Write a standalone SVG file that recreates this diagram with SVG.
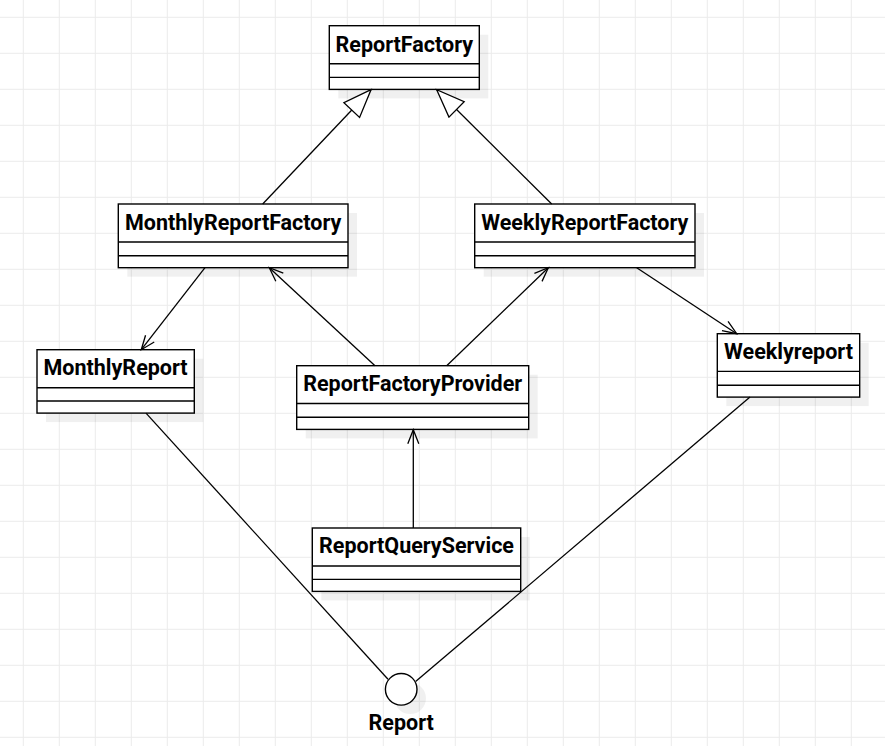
<svg xmlns="http://www.w3.org/2000/svg" width="885" height="746" viewBox="0 0 885 746">
<defs>
<pattern id="grid" patternUnits="userSpaceOnUse" x="22.8" y="16.8" width="36" height="36">
<path d="M0 0.5 H36 M0.5 0 V36" fill="none" stroke="#ebebeb" stroke-width="1"/>
</pattern>
<marker id="open" markerUnits="userSpaceOnUse" viewBox="-16 -8 18 16" markerWidth="18" markerHeight="16" refX="0" refY="0" orient="auto">
<path d="M-14,-5.5 L0,0 L-14,5.5" fill="none" stroke="#000" stroke-width="1.3"/>
</marker>
<marker id="tri" markerUnits="userSpaceOnUse" viewBox="-30 -12 32 24" markerWidth="32" markerHeight="24" refX="0" refY="0" orient="auto">
<path d="M0,0 L-28,-10.8 L-28,10.8 Z" fill="#fff" stroke="#000" stroke-width="1.3" stroke-linejoin="miter"/>
</marker>
</defs>
<style>
.shadow{fill:#000;fill-opacity:0.06}
.box{fill:#fff;stroke:#000;stroke-width:1.4}
.div{stroke:#000;stroke-width:1.4}
.t{font-family:Roboto,"Liberation Sans",sans-serif;font-weight:bold;font-size:21.5px;fill:#000;text-anchor:middle}
.edge{fill:none;stroke:#000;stroke-width:1.3}
</style>
<rect width="885" height="746" fill="#fff"/>
<rect width="885" height="746" fill="url(#grid)"/>

<g id="ReportFactory">
<rect class="shadow" x="338.3" y="34.7" width="150" height="63.7"/>
<rect class="box" x="329.3" y="25.7" width="150" height="63.7"/>
<line class="div" x1="329.3" y1="63.7" x2="479.3" y2="63.7"/>
<line class="div" x1="329.3" y1="77.4" x2="479.3" y2="77.4"/>
<text class="t" x="404.3" y="51.5">ReportFactory</text>
</g>

<g id="MonthlyReportFactory">
<rect class="shadow" x="127.3" y="213" width="229.7" height="63.7"/>
<rect class="box" x="118.3" y="204" width="229.7" height="63.7"/>
<line class="div" x1="118.3" y1="242" x2="348" y2="242"/>
<line class="div" x1="118.3" y1="255.7" x2="348" y2="255.7"/>
<text class="t" x="233.2" y="229.5">MonthlyReportFactory</text>
</g>

<g id="WeeklyReportFactory">
<rect class="shadow" x="483.7" y="213" width="220.3" height="63.7"/>
<rect class="box" x="474.7" y="204" width="220.3" height="63.7"/>
<line class="div" x1="474.7" y1="242" x2="695" y2="242"/>
<line class="div" x1="474.7" y1="255.7" x2="695" y2="255.7"/>
<text class="t" x="584.8" y="229.5">WeeklyReportFactory</text>
</g>

<g id="MonthlyReport">
<rect class="shadow" x="46" y="358.7" width="157.3" height="63.4"/>
<rect class="box" x="37" y="349.7" width="157.3" height="63.4"/>
<line class="div" x1="37" y1="387.7" x2="194.3" y2="387.7"/>
<line class="div" x1="37" y1="401" x2="194.3" y2="401"/>
<text class="t" x="115.6" y="375.2">MonthlyReport</text>
</g>

<g id="ReportFactoryProvider">
<rect class="shadow" x="305.7" y="374.7" width="232" height="63.7"/>
<rect class="box" x="296.7" y="365.7" width="232" height="63.7"/>
<line class="div" x1="296.7" y1="403.5" x2="528.7" y2="403.5"/>
<line class="div" x1="296.7" y1="417.3" x2="528.7" y2="417.3"/>
<text class="t" x="412.7" y="391.2">ReportFactoryProvider</text>
</g>

<g id="Weeklyreport">
<rect class="shadow" x="726.3" y="342.7" width="142.4" height="63.4"/>
<rect class="box" x="717.3" y="333.7" width="142.4" height="63.4"/>
<line class="div" x1="717.3" y1="371.4" x2="859.7" y2="371.4"/>
<line class="div" x1="717.3" y1="385.3" x2="859.7" y2="385.3"/>
<text class="t" x="788.5" y="358.7">Weeklyreport</text>
</g>

<g id="ReportQueryService">
<rect class="shadow" x="321.3" y="537" width="208.4" height="63.4"/>
<rect class="box" x="312.3" y="528" width="208.4" height="63.4"/>
<line class="div" x1="312.3" y1="566" x2="520.7" y2="566"/>
<line class="div" x1="312.3" y1="579.4" x2="520.7" y2="579.4"/>
<text class="t" x="416.5" y="553">ReportQueryService</text>
</g>

<g id="Report">
<circle class="shadow" cx="410.2" cy="698.3" r="15.8"/>
<circle class="box" cx="401.2" cy="689.3" r="15.8"/>
<text class="t" x="401.2" y="730">Report</text>
</g>

<g id="connectors">
<line class="edge" x1="262.7" y1="204" x2="371" y2="89.7" marker-end="url(#tri)"/>
<line class="edge" x1="551.7" y1="204" x2="436.7" y2="89.7" marker-end="url(#tri)"/>
<line class="edge" x1="205" y1="267.7" x2="141.3" y2="349.7" marker-end="url(#open)"/>
<line class="edge" x1="375" y1="365.7" x2="269.3" y2="267.7" marker-end="url(#open)"/>
<line class="edge" x1="446.7" y1="365.7" x2="548.3" y2="267.7" marker-end="url(#open)"/>
<line class="edge" x1="636.7" y1="267.7" x2="736.7" y2="333.7" marker-end="url(#open)"/>
<line class="edge" x1="413.3" y1="528" x2="413.3" y2="429.7" marker-end="url(#open)"/>
<line class="edge" x1="146" y1="413.1" x2="388" y2="679.3"/>
<line class="edge" x1="750" y1="397.1" x2="415.6" y2="681.6"/>
</g>
</svg>
